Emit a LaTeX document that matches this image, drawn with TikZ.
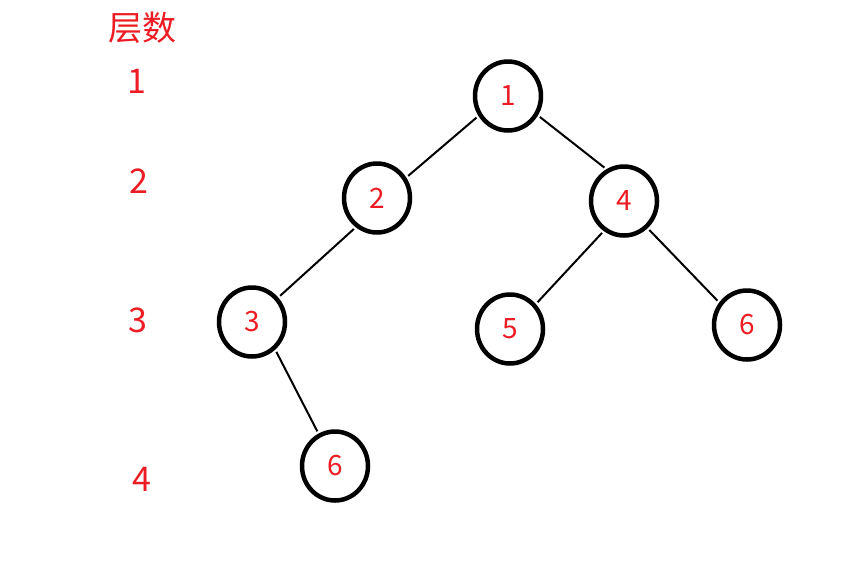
\documentclass[tikz,border=0pt]{standalone}
\usepackage{fontspec}
\setmainfont{Noto Sans CJK SC}
\usetikzlibrary{shapes.geometric}
\definecolor{pred}{HTML}{ED1C24}
\begin{document}
\begin{tikzpicture}[x=1pt,y=-1pt,
  tnode/.style={ellipse,draw=black,line width=4.5pt,minimum width=66pt,minimum height=69pt,inner sep=0pt,text=pred,font=\fontsize{28}{30}\selectfont},
  lvl/.style={text=pred,inner sep=0pt,font=\fontsize{34}{36}\selectfont},
  edge/.style={draw=black,line width=2pt,shorten <=2.5pt,shorten >=2.5pt}]
\useasboundingbox[fill=white] (0,0) rectangle (864,563);
\node[lvl] (title) at (142,28) {层数};
\node[lvl] (l1) at (137,81) {1};
\node[lvl] (l2) at (139,181) {2};
\node[lvl] (l3) at (138,320) {3};
\node[lvl] (l4) at (142,479) {4};
\node[tnode] (n1) at (508,96) {1};
\node[tnode] (n2) at (377,198) {2};
\node[tnode] (n4) at (624,201) {4};
\node[tnode] (n3) at (252,322) {3};
\node[tnode] (n5) at (510,329) {5};
\node[tnode] (n6r) at (747,325) {6};
\node[tnode] (n6b) at (335,466) {6};
\draw[edge] (n1.214) -- (n2.35);
\draw[edge] (n1.327) -- (n4.119);
\draw[edge] (n2.234) -- (n3.43);
\draw[edge] (n4.236) -- (n5.44);
\draw[edge] (n4.311) -- (n6r.141);
\draw[edge] (n3.310) -- (n6b.117);
\end{tikzpicture}
\end{document}
